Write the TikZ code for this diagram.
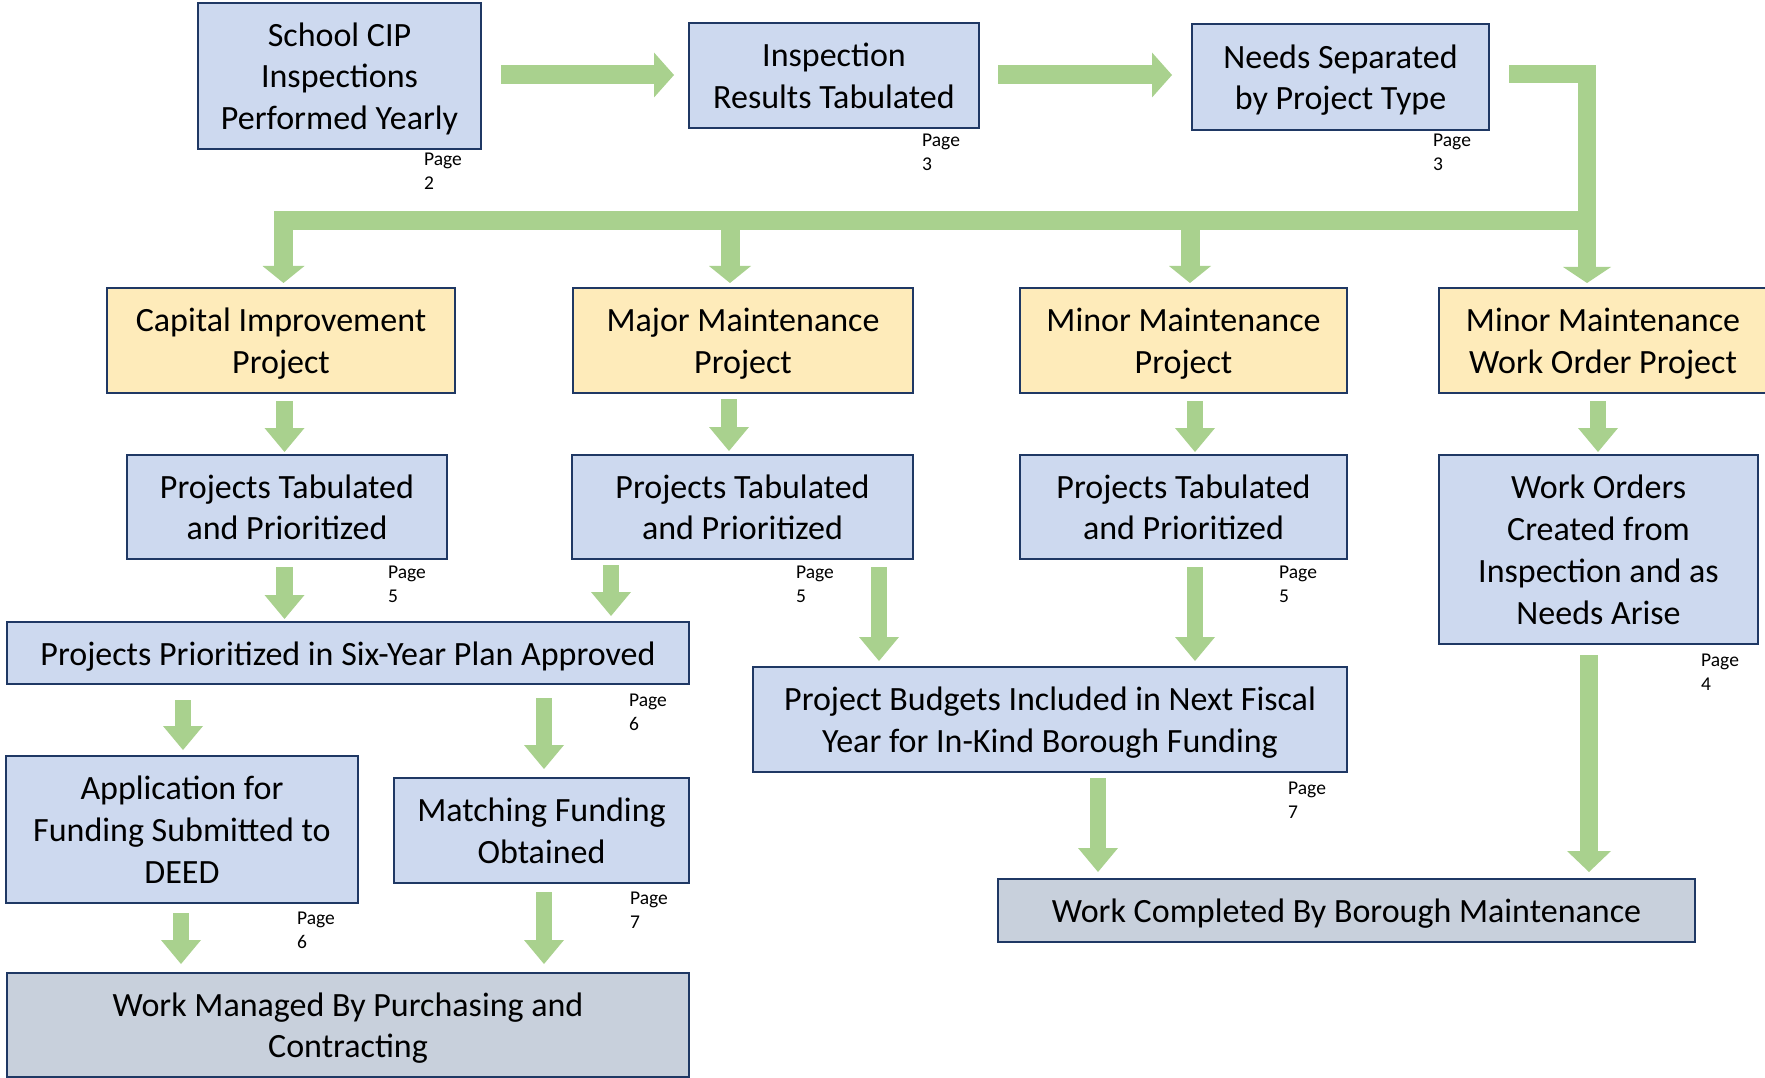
\documentclass[tikz,border=0pt]{standalone}
\usepackage{fontspec}
\setmainfont{Carlito}
\usetikzlibrary{arrows.meta}
\definecolor{boxblue}{HTML}{CDD9EF}
\definecolor{boxyellow}{HTML}{FEEBBA}
\definecolor{boxgrey}{HTML}{C8D0DC}
\definecolor{navy}{HTML}{1F3864}
\definecolor{agreen}{HTML}{A9D18E}
\newcommand{\mytopst}{\rule{0pt}{31.5pt}}
\newcommand{\mybotst}{\rule[-7.5pt]{0pt}{7.5pt}}
\begin{document}
\begin{tikzpicture}[x=1pt,y=-1pt,
  box/.style={draw=navy, line width=2pt, align=center, inner sep=0pt, text=black,
    font=\fontsize{34}{41.7}\selectfont},
  bluebox/.style={box, fill=boxblue},
  yellowbox/.style={box, fill=boxyellow},
  greybox/.style={box, fill=boxgrey},
  pagelbl/.style={anchor=north west, inner sep=0pt, align=left,
    font=\fontsize{19.5}{23.3}\selectfont},
  blk/.style={draw=agreen, line width=16.5pt,
    -{Triangle[length=24pt,width=40pt,line width=0pt]}},
  toparrow/.style={draw=agreen, line width=19pt,
    -{Triangle[length=20pt,width=45pt,line width=0pt]}},
  brarrow/.style={draw=agreen, line width=19pt,
    -{Triangle[length=17pt,width=42pt,line width=0pt]}},
]
\useasboundingbox (0,0) rectangle (1765,1078);

% ---- boxes ----
\node[bluebox, minimum width=283pt, minimum height=146pt] (cip) at (339.5,76) {\mytopst School CIP\\Inspections\\Performed Yearly\mybotst};
\node[bluebox, minimum width=290pt, minimum height=105pt] (insp) at (834,75.5) {\mytopst Inspection\\Results Tabulated\mybotst};
\node[bluebox, minimum width=297pt, minimum height=106pt] (needs) at (1340.5,77) {\mytopst Needs Separated\\by Project Type\mybotst};

\node[yellowbox, minimum width=348pt, minimum height=105pt] (cap) at (281,340.5) {\mytopst Capital Improvement\\Project\mybotst};
\node[yellowbox, minimum width=340pt, minimum height=105pt] (major) at (743,340.5) {\mytopst Major Maintenance\\Project\mybotst};
\node[yellowbox, minimum width=327pt, minimum height=105pt] (minor) at (1183.5,340.5) {\mytopst Minor Maintenance\\Project\mybotst};
\node[yellowbox, minimum width=328pt, minimum height=105pt] (wo) at (1603,340.5) {\mytopst Minor Maintenance\\Work Order Project\mybotst};

\node[bluebox, minimum width=320pt, minimum height=104pt] (pt1) at (287,507) {\mytopst Projects Tabulated\\and Prioritized\mybotst};
\node[bluebox, minimum width=341pt, minimum height=104pt] (pt2) at (742.5,507) {\mytopst Projects Tabulated\\and Prioritized\mybotst};
\node[bluebox, minimum width=327pt, minimum height=104pt] (pt3) at (1183.5,507) {\mytopst Projects Tabulated\\and Prioritized\mybotst};
\node[bluebox, minimum width=319pt, minimum height=189pt] (wos) at (1598.5,549.5) {\mytopst Work Orders\\Created from\\Inspection and as\\Needs Arise\mybotst};

\node[bluebox, minimum width=682pt, minimum height=62pt] (six) at (348,653) {\mytopst Projects Prioritized in Six-Year Plan Approved\mybotst};
\node[bluebox, minimum width=594pt, minimum height=105pt] (budget) at (1050,719.5) {\mytopst Project Budgets Included in Next Fiscal\\Year for In-Kind Borough Funding\mybotst};

\node[bluebox, minimum width=352pt, minimum height=147pt] (app) at (182,829.5) {\mytopst Application for\\Funding Submitted to\\DEED\mybotst};
\node[bluebox, minimum width=295pt, minimum height=105pt] (match) at (541.5,830.5) {\mytopst Matching Funding\\Obtained\mybotst};

\node[greybox, minimum width=682pt, minimum height=104pt] (wm) at (348,1025) {\mytopst Work Managed By Purchasing and\\Contracting\mybotst};
\node[greybox, minimum width=697pt, minimum height=63pt] (wc) at (1346.5,910.5) {\mytopst Work Completed By Borough Maintenance\mybotst};

% ---- page labels ----
\node[pagelbl] (p2) at (424,153) {Page\\2};
\node[pagelbl] (p3a) at (922,134) {Page\\3};
\node[pagelbl] (p3b) at (1433,134) {Page\\3};
\node[pagelbl] (p5a) at (388,566) {Page\\5};
\node[pagelbl] (p5b) at (796,566) {Page\\5};
\node[pagelbl] (p5c) at (1279,566) {Page\\5};
\node[pagelbl] (p4) at (1701,654) {Page\\4};
\node[pagelbl] (p6a) at (629,694) {Page\\6};
\node[pagelbl] (p6b) at (297,912) {Page\\6};
\node[pagelbl] (p7a) at (630,892) {Page\\7};
\node[pagelbl] (p7b) at (1288,782) {Page\\7};

% ---- top row arrows ----
\draw[toparrow, shorten <=19pt, shorten >=14pt] ([yshift=1pt]cip.east) -- ([yshift=0.5pt]insp.west);
\draw[toparrow, shorten <=18pt, shorten >=19pt] ([yshift=0.5pt]insp.east) -- ([yshift=2pt]needs.west);

% elbow from needs down to work order project
\draw[draw=agreen, line width=18pt, line join=miter,
  -{Triangle[length=16pt,width=48pt,line width=0pt]}, shorten >=4pt]
  ([xshift=19pt,yshift=3pt]needs.east) -| ([xshift=-16pt]wo.north);

% branch bar
\coordinate (jn) at (1587,220.5);
\draw[brarrow, line join=miter, shorten >=4pt] (jn) -| ([xshift=2.5pt]cap.north);
\coordinate (d1) at (730,220.5);
\coordinate (d2) at (1190,220.5);
\draw[brarrow, shorten >=4pt] (d1) -- (d1 |- major.north);
\draw[brarrow, shorten >=4pt] (d2) -- (d2 |- minor.north);

% ---- vertical arrows ----
\draw[blk, shorten <=7pt, shorten >=2pt] ([xshift=3.5pt]cap.south) -- ([xshift=-2.5pt]pt1.north);
\draw[blk, shorten <=5pt, shorten >=3pt] ([xshift=-14pt]major.south) -- ([xshift=-13.5pt]pt2.north);
\draw[blk, shorten <=7pt, shorten >=2pt] ([xshift=11.5pt]minor.south) -- ([xshift=11.5pt]pt3.north);
\draw[blk, shorten <=7pt, shorten >=2pt] ([xshift=-5pt]wo.south) -- ([xshift=-0.5pt]wos.north);

\draw[blk, shorten <=7pt, shorten >=2pt] ([xshift=-2.5pt]pt1.south) -- ([xshift=-63.5pt]six.north);
\draw[blk, shorten <=5pt, shorten >=5pt] ([xshift=-131.5pt]pt2.south) -- ([xshift=263pt]six.north);
\draw[blk, shorten <=7pt, shorten >=5pt] ([xshift=136.5pt]pt2.south) -- ([xshift=-171pt]budget.north);
\draw[blk, shorten <=7pt, shorten >=5pt] ([xshift=11.5pt]pt3.south) -- ([xshift=145pt]budget.north);

\draw[blk, shorten <=15pt, shorten >=5pt] ([xshift=-165pt]six.south) -- ([xshift=1pt]app.north);
\draw[blk, shorten <=13pt, shorten >=8pt] ([xshift=196pt]six.south) -- ([xshift=2.5pt]match.north);
\draw[blk, shorten <=9pt, shorten >=8pt] ([xshift=-1pt]app.south) -- ([xshift=-167pt]wm.north);
\draw[blk, shorten <=8pt, shorten >=8pt] ([xshift=2.5pt]match.south) -- ([xshift=196pt]wm.north);

\draw[blk, shorten <=5pt, shorten >=6pt] ([xshift=48pt]budget.south) -- ([xshift=-248.5pt]wc.north);
\draw[blk, line width=18pt, -{Triangle[length=21pt,width=44pt,line width=0pt]}, shorten <=10pt, shorten >=6pt]
  ([xshift=-9.5pt]wos.south) -- ([xshift=242.5pt]wc.north);
\end{tikzpicture}
\end{document}
